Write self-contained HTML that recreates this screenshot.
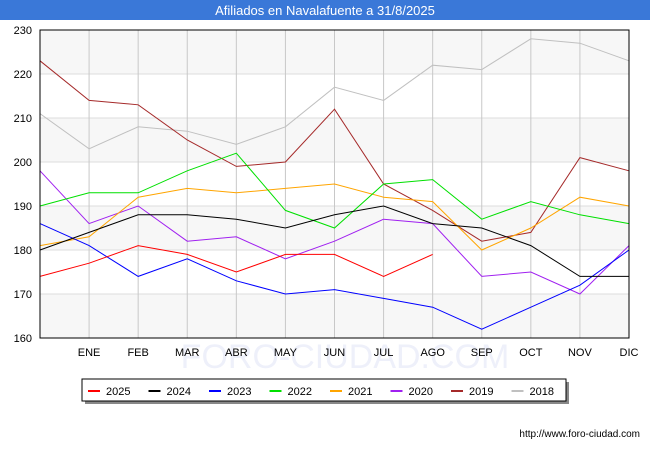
<!DOCTYPE html>
<html><head><meta charset="utf-8"><style>
body{margin:0;width:650px;height:450px;background:#fff;font-family:"Liberation Sans",sans-serif;overflow:hidden}
</style></head><body>
<svg width="650" height="450" xmlns="http://www.w3.org/2000/svg">
<rect x="0" y="0" width="650" height="20" fill="#3a78d8"/>
<text x="325" y="15" text-anchor="middle" fill="#fff" font-size="13">Afiliados en Navalafuente a 31/8/2025</text>
<text x="345" y="368" text-anchor="middle" fill="#eef0fa" font-size="34">FORO-CIUDAD.COM</text>
<g id="plot"></g>
<g id="legend"></g>
<text x="640" y="437" text-anchor="end" font-size="10" fill="#000">http://www.foro-ciudad.com</text>
</svg>
<script>
const months=["","ENE","FEB","MAR","ABR","MAY","JUN","JUL","AGO","SEP","OCT","NOV","DIC"];
const yTicks=[160,170,180,190,200,210,220,230];
const seriesNames=["2025","2024","2023","2022","2021","2020","2019","2018"];
const seriesColors=["#ff0000","#000000","#0000ff","#00e000","#ffa500","#a020f0","#a52a2a","#c0c0c0"];
const s2025=[174,177,181,179,175,179,179,174,179];
const s2024=[180,184,188,188,187,185,188,190,186,185,181,174,174];
const s2023=[186,181,174,178,173,170,171,169,167,162,167,172,180];
const s2022=[190,193,193,198,202,189,185,195,196,187,191,188,186];
const s2021=[181,183,192,194,193,194,195,192,191,180,185,192,190];
const s2020=[198,186,190,182,183,178,182,187,186,174,175,170,181];
const s2019=[223,214,213,205,199,200,212,195,189,182,184,201,198];
const s2018=[211,203,208,207,204,208,217,214,222,221,228,227,223];
const allSeries=[s2025,s2024,s2023,s2022,s2021,s2020,s2019,s2018];
const NS="http://www.w3.org/2000/svg";
const X0=40,X1=629,Y0=338,Y1=30;
const xs=i=>X0+i*(X1-X0)/12;
const ys=v=>Y0-(v-160)*(Y0-Y1)/70;
function mk(t,a,p){const e=document.createElementNS(NS,t);for(const k in a)e.setAttribute(k,a[k]);p.appendChild(e);return e;}
const plot=document.getElementById('plot');
for(let i=0;i<yTicks.length-1;i+=2){
 const b=mk('rect',{x:X0,y:ys(yTicks[i+1]),width:X1-X0,height:ys(yTicks[i])-ys(yTicks[i+1]),fill:'#f7f7f7'},plot);
 
 
}
yTicks.forEach(v=>{
 const l=mk('line',{x1:X0,x2:X1,y1:ys(v),y2:ys(v),stroke:'#dddddd'},plot);
 
 
 const t=mk('text',{x:X0-8,y:ys(v)+4,'text-anchor':'end','font-size':11,fill:'#000'},plot);
 t.textContent=v;
 
 
});
months.forEach((m,i)=>{
 if(i>0){const l=mk('line',{x1:xs(i),x2:xs(i),y1:Y1,y2:Y0,stroke:'#c8c8c8'},plot);
 
 }
 const t=mk('text',{x:xs(i),y:356,'text-anchor':'middle','font-size':11,fill:'#000'},plot);
 t.textContent=m;
 
 
});
for(let k=allSeries.length-1;k>=0;k--){
 const d=allSeries[k].map((v,i)=>xs(i)+','+ys(v)).join(' ');
 const p=mk('polyline',{points:d,fill:'none',stroke:seriesColors[k],'stroke-width':1},plot);
 
 
}
const fr=mk('rect',{x:X0,y:Y1,width:X1-X0,height:Y0-Y1,fill:'none',stroke:'#000'},plot);


const lg=document.getElementById('legend');
const sh=mk('rect',{x:85,y:382,width:484,height:22,fill:'#888'},lg);


const lb=mk('rect',{x:82,y:379,width:484,height:22,fill:'#fff',stroke:'#000'},lg);


seriesNames.forEach((n,k)=>{
 const x=88+k*60.5;
 const l=mk('line',{x1:x,x2:x+12,y1:391,y2:391,stroke:seriesColors[k],'stroke-width':2},lg);
 
 
 const t=mk('text',{x:x+18,y:395,'font-size':11,fill:'#000'},lg);
 t.textContent=n;
 
 
});
</script>
</body></html>
